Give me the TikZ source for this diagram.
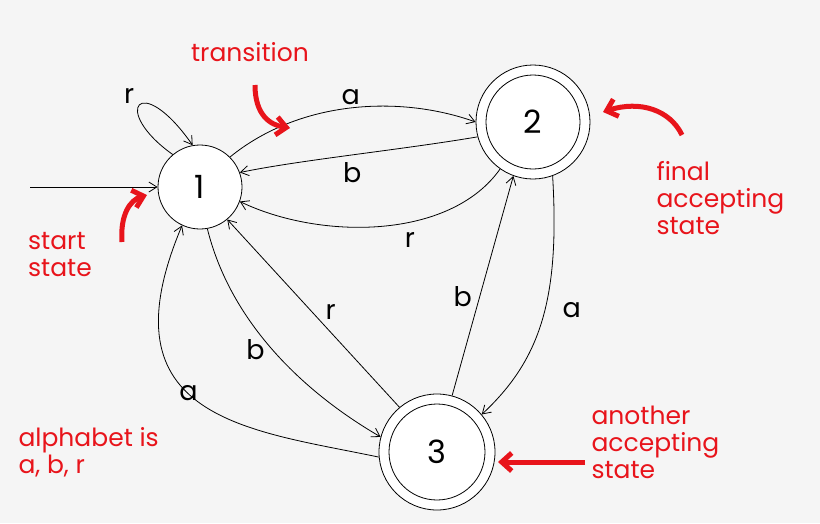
\documentclass[tikz,border=0pt]{standalone}
\usepackage{fontspec}
\setmainfont{Poppins}
\usetikzlibrary{arrows.meta}
\definecolor{bg}{HTML}{F5F5F5}
\definecolor{ann}{HTML}{E8141B}
\begin{document}
\begin{tikzpicture}[x=1pt,y=-1pt,
  st/.style={circle,draw,thick,fill=white,inner sep=0pt,font=\fontsize{32}{32}\selectfont},
  ed/.style={-{Straight Barb[length=8pt,width=10pt]},line width=0.8pt},
  lb/.style={font=\fontsize{27}{27}\selectfont},
  an/.style={text=ann,font=\fontsize{25}{25}\selectfont,align=left},
  aa/.style={ann,line width=5pt,-{Straight Barb[length=10pt,width=18pt]}}]
\fill[bg] (0,0) rectangle (820,523);
\useasboundingbox (0,0) rectangle (820,523);
\node[st,minimum size=84pt] (n1) at (200,187) {1};
\node[st,minimum size=114pt] (n2o) at (533,122) {};
\node[st,minimum size=94pt] (n2) at (533,122) {2};
\node[st,minimum size=116pt] (n3o) at (437,452) {};
\node[st,minimum size=96pt] (n3) at (437,452) {3};
\coordinate (s) at (30,187);
\draw[ed] (s) -- (n1);
\draw[ed] (n1.130) .. controls (110,110) and (140,70) .. node[lb,above left,pos=0.45]{r} (n1.100);
\draw[ed] (n1.45) .. controls (300,100) and (400,95) .. node[lb,above]{a} (n2o.180);
\draw[ed] (n2o.195) .. controls (400,150) and (300,160) .. node[lb,below,yshift=-4pt]{b} (n1.20);
\draw[ed] (n2o.235) .. controls (450,240) and (320,240) .. node[lb,below,pos=0.4,yshift=-6pt]{r} (n1.-20);
\draw[ed] (n1.-80) .. controls (230,320) and (300,390) .. node[lb,left,pos=0.5,xshift=-4pt]{b} (n3o.165);
\draw[ed] (n3o.130) -- node[lb,above right,pos=0.45]{r} (n1.-50);
\draw[ed] (n3o.185) .. controls (250,430) and (100,420) .. node[lb,above left,pos=0.5]{a} (n1.-115);
\draw[ed] (n3o.75) -- node[lb,left,pos=0.45,xshift=-4pt]{b} (n2o.-110);
\draw[ed] (n2o.-70) .. controls (560,300) and (540,360) .. node[lb,right,pos=0.45,xshift=14pt]{a} (n3o.40);
\node[an] (t1) at (250,52) {transition};
\coordinate (t1e) at (290,128);
\draw[aa] (255,85) .. controls (255,115) and (270,125) .. (t1e);
\node[an] (t2) at (60,255) {start\\[2pt]state};
\coordinate (t2e) at (147,195);
\draw[aa] (122,242) .. controls (120,215) and (130,200) .. (t2e);
\node[an,anchor=west] (t3) at (653,198) {final\\[2pt]accepting\\[2pt]state};
\coordinate (t3e) at (603,112);
\draw[aa] (682,135) .. controls (670,110) and (640,100) .. (t3e);
\node[an,anchor=west] (t4) at (588,442) {another\\[2pt]accepting\\[2pt]state};
\coordinate (t4e) at (498,462);
\draw[aa] (585,462) -- (t4e);
\node[an,anchor=west] (t5) at (15,452) {alphabet is\\[2pt]a, b, r};
\end{tikzpicture}
\end{document}
